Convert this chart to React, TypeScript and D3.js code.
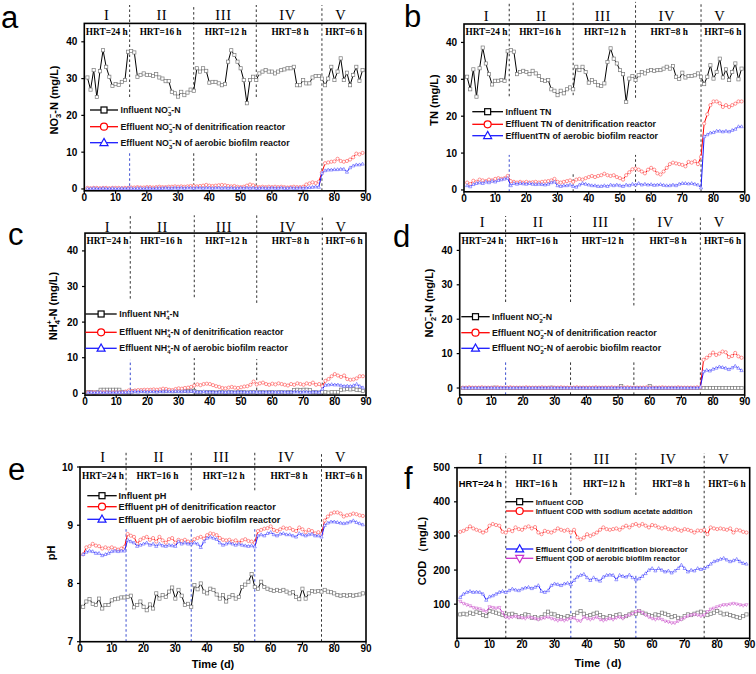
import React from 'react';
import * as d3 from 'd3';

// ---------- data ----------
const days: number[] = d3.range(1, 90);
const xTicks = [0, 10, 20, 30, 40, 50, 60, 70, 80, 90];
const nTicks = [0, 10, 20, 30, 40];
const phTicks = [7, 8, 9, 10];
const codTicks = [100, 200, 300, 400, 500];
const romanLabels = ['I', 'II', 'III', 'IV', 'V'];
const romanPos = [7.2, 24.8, 44.5, 65, 82];
const hrtLabels = ['HRT=24 h', 'HRT=16 h', 'HRT=12 h', 'HRT=8 h', 'HRT=6 h'];
const hrtPos = [7.2, 24.4, 45.2, 65.8, 83];

// a: NO3-N
const no3Inf = [30.3,27,32.3,25,32,37.7,33.2,30.5,28,28.5, 28.3,29.1,29.6,37.3,37.5,37.1,30.5,31,31.4,31, 31,30.7,31.2,30.3,30,29.3,29.3,26.4,26,25.1, 26.4,25.5,26.2,27,26.7,32.8,31.9,32.8,32.1,28.9, 29.1,29.1,28.7,28.2,28.5,34.6,37.7,36.4,34.6,32.8, 29.6,23.3,29.6,30.5,29.6,31.4,31.9,32.3,31.9,31.9, 31.4,31.9,32.3,32.5,32.8,32.8,33.2,28.2,28.2,29.6, 28.7,28.7,30.3,30.7,30.7,30,28.2,30,33.2,29.6, 31.9,35.5,29.6,31.6,28.2,31,33.2,29.4,32.3];
const no3Den = [0.3,0.2,0.3,0.3,0.2,0.3,0.3,0.2,0.3,0.3, 0.3,0.2,0.3,0.3,0.4,0.4,0.5,0.4,0.4,0.5, 0.5,0.4,0.5,0.6,0.5,0.5,0.6,0.6,0.7,0.6, 0.7,0.6,0.7,0.8,0.8,0.7,0.8,0.9,1.1,0.9, 0.8,0.9,1.0,1.1,1.0,0.8,0.7,0.8,0.6,0.5, 0.6,0.9,1.2,1.0,0.6,0.5,0.6,0.5,0.6,0.5, 0.6,0.5,0.6,0.5,0.4,0.5,0.6,0.5,0.5,0.6, 1.2,1.5,1.8,1.6,2.0,4.5,7.0,7.2,7.4,7.5, 8.2,7.6,7.4,7.6,8.0,8.6,9.6,9.4,9.8];
const no3Aer = [0.1,0.1,0.2,0.1,0.1,0.2,0.1,0.1,0.2,0.1, 0.1,0.2,0.1,0.2,0.2,0.1,0.2,0.2,0.1,0.2, 0.2,0.1,0.2,0.2,0.2,0.3,0.2,0.2,0.3,0.2, 0.3,0.2,0.3,0.3,0.2,0.3,0.3,0.2,0.3,0.3, 0.2,0.3,0.3,0.2,0.3,0.2,0.3,0.2,0.2,0.3, 0.2,0.3,0.2,0.3,0.2,0.2,0.3,0.2,0.2,0.3, 0.2,0.2,0.3,0.2,0.2,0.3,0.2,0.2,0.3,0.2, 0.3,0.4,0.5,0.6,0.5,4.3,5.0,5.2,5.2,5.3, 5.3,5.4,5.4,4.6,5.8,6.3,6.6,6.6,6.8];

// b: TN
const tnInf = [30.7,27.3,32.7,25.3,33,38.6,34.3,31.4,28.6,29.6, 29.6,29.8,29.6,37.6,37.9,37.5,31.4,32,32.3,32, 31.4,32.3,31.6,30.9,29.8,29.6,29.8,27.3,26.9,25.7, 26.9,26.2,27.3,27.8,27.3,33.4,32.5,33.4,32,29.1, 29.8,29.3,28.4,28.2,28.9,34.7,38.4,35.6,34.3,32.5, 31.4,23.9,30.2,30.9,29.8,31.1,32,31.6,32.3,32.5, 32.3,32.5,32.5,32.9,33.4,32.9,33.6,30.7,30.1,31.8, 30.5,30.9,30.9,31.1,31.6,30.7,28.7,30.7,33.8,30.2, 32,35.6,30.5,32.7,29.8,32,34.3,30,32.9];
const tnDen = [2.0,1.6,2.5,2.2,2.8,2.6,2.4,2.8,2.6,3.0, 3.2,3.0,3.2,3.8,2.4,2.2,2.0,2.2,2.0,2.2, 2.0,2.1,2.2,2.0,2.2,2.3,2.4,2.6,3.0,2.2, 2.0,2.2,2.4,2.6,2.2,2.8,3.0,2.8,3.2,3.5, 3.8,3.5,3.8,4.0,4.4,4.0,3.8,4.0,3.5,3.2, 2.8,4.0,4.8,5.6,5.8,5.5,5.0,4.5,5.5,6.0, 5.5,4.5,4.2,5.0,6.0,7.0,7.4,7.2,7.0,6.8, 6.4,7.6,7.4,7.8,7.0,9.0,18,20.5,23,24, 24,23.5,22.5,23,22.5,23,23.4,24,24];
const tnAer = [1.2,0.9,1.5,1.8,2.0,1.8,2.2,2.0,2.4,2.2, 2.6,2.8,3.0,3.2,1.2,1.8,1.6,1.8,1.7,1.6, 1.8,1.6,1.5,1.6,1.5,1.4,1.6,2.0,2.2,1.2, 1.0,1.2,1.2,1.4,1.0,0.8,1.4,1.8,1.6,1.4, 1.2,1.2,1.0,1.0,1.2,1.0,1.4,1.2,1.4,1.2, 1.0,1.4,1.2,1.6,1.4,1.8,1.4,1.6,1.4,1.5, 1.3,1.4,1.5,1.3,1.2,1.2,1.4,1.2,1.6,1.8, 1.8,1.7,1.8,1.6,1.4,0.6,14.5,15.0,15.5,15.6, 16,16,15.8,16,15.8,16.2,16.5,17.2,17.2];

// c: NH4+-N
const nh4Inf = [0.3,0.3,0.2,0.3,1.0,1.0,1.0,1.0,1.0,1.0, 1.0,0.4,0.3,0.3,0.5,0.6,0.6,0.7,0.6,0.6, 0.7,0.6,0.6,0.7,0.6,0.6,0.7,0.6,0.6,0.7, 0.6,0.7,0.6,0.7,0.6,0.3,0.3,0.2,0.3,0.3, 0.3,0.2,0.3,0.3,0.2,0.3,0.3,0.2,0.3,0.3, 0.3,0.2,0.3,0.3,0.2,0.3,0.3,0.2,0.3,0.3, 0.2,0.3,0.3,0.2,0.3,0.3,0.9,1.0,0.9,1.0, 1.0,0.9,0.3,0.3,0.2,0.3,0.3,0.2,0.3,0.3, 0.3,1.0,1.1,1.2,1.1,1.2,1.0,0.9,0.7];
const nh4Den = [0.3,0.3,0.3,0.2,0.3,0.3,0.3,0.2,0.3,0.3, 0.3,0.3,0.5,0.8,0.6,0.8,0.9,0.9,1.0,1.0, 1.0,1.1,1.0,1.1,1.3,1.2,1.0,0.9,1.2,1.4, 1.3,1.5,1.6,1.8,2.2,2.5,2.3,2.6,2.7,2.6, 2.3,2.0,1.8,1.5,1.4,1.6,1.8,1.6,1.5,1.7, 1.9,2.0,2.4,3.3,2.5,2.8,3.0,2.6,2.4,2.7, 2.5,2.8,2.6,2.4,2.2,2.6,2.4,2.8,2.6,2.4, 2.8,2.6,3.0,2.4,2.6,2.0,3.5,4.0,4.8,5.4, 5.0,4.6,5.0,4.0,3.8,3.9,4.2,4.8,4.8];
const nh4Aer = [0.2,0.3,0.2,0.3,0.3,0.2,0.3,0.3,0.2,0.3, 0.3,0.3,0.3,0.4,0.4,0.5,0.4,0.5,0.5,0.4, 0.5,0.5,0.4,0.5,0.5,0.6,0.5,0.5,0.6,0.5, 0.5,0.6,0.5,0.6,0.5,0.4,0.4,0.5,0.4,0.4, 0.4,0.3,0.4,0.4,0.3,0.4,0.4,0.3,0.4,0.4, 0.4,0.3,0.4,0.4,0.4,0.3,0.4,0.4,0.3,0.4, 0.4,0.3,0.4,0.4,0.3,0.4,0.4,0.4,0.3,0.4, 0.4,0.3,0.4,0.4,0.3,1.2,2.3,2.4,2.5,2.4, 2.4,2.2,2.0,2.1,2.0,2.2,2.6,2.0,1.6];

// d: NO2--N
const no2Inf = [0,0,0,0,0,0,0,0,0,0, 0.1,0,0,0,0,0,0,0,0,0, 0,0,0,0,0,0,0,0,0.1,0, 0,0,0,0,0,0,0,0,0,0, 0,0,0,0,0,0,0,0,0,0, 0.6,0,0,0,0,0,0,0,0,0.6, 0,0,0,0,0,0,0,0,0,0, 0,0,0,0,0,0,0,0,0,0, 0,0,0,0,0,0,0,0,0];
const no2Den = [0.1,0.1,0.2,0.1,0.1,0.1,0.2,0.1,0.1,0.1, 0.1,0.2,0.1,0.1,0.1,0.2,0.1,0.1,0.1,0.1, 0.2,0.1,0.1,0.1,0.1,0.2,0.1,0.1,0.1,0.1, 0.1,0.2,0.1,0.1,0.1,0.1,0.2,0.1,0.1,0.1, 0.1,0.1,0.2,0.1,0.1,0.1,0.1,0.2,0.1,0.1, 0.1,0.1,0.2,0.1,0.1,0.1,0.1,0.1,0.2,0.1, 0.1,0.1,0.1,0.2,0.1,0.1,0.1,0.1,0.2,0.1, 0.1,0.1,0.1,0.1,0.2,0.2,8.2,8.8,9.5,10.3, 9.6,10.0,10.6,10.4,9.0,9.3,10.2,9.2,8.8];
const no2Aer = [0.05,0.05,0.05,0.05,0.05,0.05,0.05,0.05,0.05,0.05, 0.05,0.05,0.05,0.05,0.05,0.05,0.05,0.05,0.05,0.05, 0.05,0.05,0.05,0.05,0.05,0.05,0.05,0.05,0.05,0.05, 0.05,0.05,0.05,0.05,0.05,0.05,0.05,0.05,0.05,0.05, 0.05,0.05,0.05,0.05,0.05,0.05,0.05,0.05,0.05,0.05, 0.05,0.05,0.05,0.05,0.05,0.05,0.05,0.05,0.05,0.05, 0.05,0.05,0.05,0.05,0.05,0.05,0.05,0.05,0.05,0.05, 0.05,0.05,0.05,0.05,0.05,0.3,4.8,5.2,5.0,5.5, 5.8,6.2,6.0,5.8,5.4,5.9,6.4,5.8,5.1];

// e: pH
const phInf = [7.60,7.69,7.73,7.65,7.63,7.74,7.57,7.63,7.63,7.71, 7.73,7.74,7.76,7.76,7.77,7.79,7.59,7.63,7.69,7.60, 7.54,7.64,7.57,7.83,7.74,7.80,7.77,7.86,7.93,7.74, 7.89,7.79,7.63,7.65,7.60,7.97,7.90,8.00,7.86,7.83, 7.91,7.89,7.81,7.74,7.80,7.69,7.77,7.80,7.74,7.77, 7.94,7.98,8.03,8.16,7.94,7.91,8.03,7.94,7.91,7.89, 7.87,7.89,7.87,7.89,7.86,7.83,7.85,7.77,7.73,7.91, 7.74,7.83,7.87,7.86,7.87,7.86,7.89,7.86,7.85,7.83, 7.80,7.79,7.80,7.79,7.80,7.79,7.80,7.81,7.83];
const phDen = [8.50,8.62,8.64,8.68,8.65,8.64,8.60,8.62,8.60,8.62, 8.60,8.58,8.60,8.63,8.85,8.82,8.80,8.68,8.75,8.78, 8.80,8.75,8.78,8.72,8.80,8.74,8.70,8.76,8.78,8.70, 8.75,8.73,8.75,8.72,8.70,8.76,8.78,8.80,8.77,8.83, 8.86,8.85,8.83,8.78,8.75,8.74,8.75,8.72,8.74,8.70, 8.74,8.76,8.73,8.72,8.70,8.90,8.92,8.94,8.95,8.98, 8.92,8.90,8.93,8.96,8.94,8.95,8.92,8.90,8.96,8.93, 8.88,8.92,8.90,8.86,8.88,8.85,9.08,9.15,9.20,9.22, 9.22,9.20,9.15,9.17,9.18,9.20,9.19,9.17,9.16];
const phAer = [8.50,8.54,8.56,8.55,8.52,8.52,8.48,8.50,8.52,8.55, 8.56,8.55,8.56,8.56,8.75,8.72,8.70,8.64,8.66,8.68, 8.70,8.66,8.68,8.64,8.68,8.65,8.64,8.66,8.65,8.64, 8.72,8.68,8.70,8.68,8.68,8.70,8.68,8.62,8.72,8.78, 8.80,8.78,8.76,8.70,8.66,8.68,8.70,8.68,8.66,8.68, 8.66,8.65,8.64,8.65,8.63,8.82,8.84,8.82,8.86,8.88, 8.84,8.82,8.85,8.86,8.84,8.84,8.82,8.80,8.86,8.84, 8.82,8.84,8.85,8.82,8.82,8.80,9.00,9.04,9.06,9.06, 9.05,9.04,9.03,9.04,9.06,9.08,9.05,9.03,9.01];

// f: COD
const codInf = [70,72,70,75,72,78,74,68,65,80, 78,75,72,68,65,70,72,68,62,65, 70,68,60,62,58,62,70,78,72,70, 65,62,60,65,62,68,75,80,72,65, 68,72,75,68,62,60,65,62,68,70, 62,65,70,75,72,80,75,72,68,65, 70,68,75,72,68,62,65,60,58,65, 70,68,72,75,78,75,68,72,75,80, 75,70,72,68,65,62,60,65,70];
const codAcetate = [312,315,320,328,322,318,315,310,315,330, 335,332,330,312,310,318,314,325,320,318, 325,328,322,326,310,305,315,312,310,315, 322,318,315,318,310,318,296,290,295,305, 300,305,310,318,325,320,318,320,322,318, 325,330,325,332,335,330,335,330,325,332, 330,325,322,325,320,318,322,318,315,320, 318,315,310,316,315,318,305,325,322,320, 322,320,318,322,310,318,316,312,310];
const codDen = [120,130,135,138,135,136,135,130,112,122, 125,130,135,138,135,140,145,142,140,145, 148,150,146,150,155,138,135,140,155,160, 158,155,160,162,158,170,180,185,188,178, 170,178,172,168,180,185,186,185,172,185, 182,180,186,178,172,175,182,190,200,205, 198,205,200,195,198,192,198,205,215,205, 195,200,198,205,202,205,210,218,225,228, 232,235,230,225,228,232,225,220,218];
const codAer = [108,102,98,95,90,88,86,82,78,92, 90,88,90,75,62,60,62,64,62,60, 58,62,60,58,55,58,60,62,58,55, 52,55,52,55,58,60,52,50,62,58, 55,58,62,55,52,55,58,55,60,62, 58,65,68,72,78,80,75,68,62,58, 55,58,55,50,48,45,45,50,55,60, 65,68,70,68,65,68,78,85,88,92, 95,98,98,100,102,100,98,96,98];

// ---------- styling ----------
type Seg = { t: string; s?: 'sub' | 'sup'; dx?: number };
type MarkType = 'square' | 'circle' | 'tri' | 'triDown';
const SANS = 'Liberation Sans, Arial, Helvetica, sans-serif';
const SERIF = 'Liberation Serif, Times New Roman, serif';
const COLORS: Record<string, { line: string; mark: string }> = {
  black: { line: '#000000', mark: '#7a7a7a' },
  red: { line: '#ff0000', mark: '#ff6464' },
  blue: { line: '#1a1aff', mark: '#7070ff' },
  magenta: { line: '#cc33cc', mark: '#d67ad6' },
};
const DARK = '#333333';
const BLUE_DASH = '#3a4cd0';

const ion = (pre: string, base: string, num: string, charge: string, post: string): Seg[] => [
  { t: pre + base }, { t: num, s: 'sub' }, { t: charge, s: 'sup', dx: -0.39 }, { t: post },
];

interface SeriesDef { values: number[]; color: string; marker: MarkType; label: Seg[] }
interface DividerDef { x: number; segs: [number, number, boolean][] }
interface PanelDef {
  letter: string; letterX: number; letterY: number;
  xRange: [number, number]; yDomain: [number, number]; yRange: [number, number];
  yTicks: number[]; yTitle: Seg[]; yTitleX: number; yTitleY: number;
  xTitle?: Seg[]; xTitleX?: number; xTitleY?: number;
  romanY: number; hrtY: number; hrtSansFirst?: boolean;
  dividers: DividerDef[]; series: SeriesDef[];
  legend: { x0: number; x1: number; tx: number; rows: number[]; fs: number };
}

const std = (tops: number[], bots: number[], lo: number, hi: number): DividerDef[] => [
  { x: 14.5, segs: [[tops[0], hi, false], [lo, bots[0], true]] },
  { x: 35, segs: [[tops[1], hi, false], [lo, bots[1], false]] },
  { x: 55, segs: [[tops[2], hi, false], [lo, bots[2], false]] },
  { x: 76, segs: [[lo, hi, false]] },
];

const panels: PanelDef[] = [
  {
    letter: 'a', letterX: 1, letterY: 28,
    xRange: [84.3, 365.7], yDomain: [-0.5, 45], yRange: [190.8, 23.4],
    yTicks: nTicks, yTitle: ion('', 'NO', '3', '−', '-N (mg/L)'), yTitleX: 58, yTitleY: 100,
    romanY: 20, hrtY: 35,
    dividers: std([25, 27, 25], [10, 10, 10], -0.5, 50),
    series: [
      { values: no3Inf, color: 'black', marker: 'square', label: ion('Influent ', 'NO', '3', '−', '-N') },
      { values: no3Den, color: 'red', marker: 'circle', label: ion('Effluent ', 'NO', '3', '−', '-N of denitrification reactor') },
      { values: no3Aer, color: 'blue', marker: 'tri', label: ion('Effluent ', 'NO', '3', '−', '-N of aerobic biofilm reactor') },
    ],
    legend: { x0: 90, x1: 118, tx: 120.5, rows: [110, 126.7, 142.7], fs: 8.8 },
  },
  {
    letter: 'b', letterX: 404, letterY: 27,
    xRange: [464, 744.7], yDomain: [-0.5, 45], yRange: [191.8, 24.0],
    yTicks: nTicks, yTitle: [{ t: 'TN (mg/L)' }], yTitleX: 438, yTitleY: 100,
    romanY: 21, hrtY: 35,
    dividers: std([25.4, 25.7, 25], [9.5, 4.5, 9.5], -0.5, 51),
    series: [
      { values: tnInf, color: 'black', marker: 'square', label: [{ t: 'Influent TN' }] },
      { values: tnDen, color: 'red', marker: 'circle', label: [{ t: 'Effluent TN of denitrification reactor' }] },
      { values: tnAer, color: 'blue', marker: 'tri', label: [{ t: 'EffluentTN of aerobic biofilm reactor' }] },
    ],
    legend: { x0: 472.3, x1: 503, tx: 505.5, rows: [111.7, 124.3, 135.7], fs: 8.8 },
  },
  {
    letter: 'c', letterX: 8, letterY: 245,
    xRange: [85, 366], yDomain: [-0.5, 45], yRange: [395.1, 233.1],
    yTicks: nTicks, yTitle: ion('', 'NH', '4', '+', '-N (mg/L)'), yTitleX: 57, yTitleY: 306,
    romanY: 232, hrtY: 244.3,
    dividers: std([26.6, 27, 25.4], [9.4, 9.9, 9.6], -0.5, 50),
    series: [
      { values: nh4Inf, color: 'black', marker: 'square', label: ion('Influent ', 'NH', '4', '+', '-N') },
      { values: nh4Den, color: 'red', marker: 'circle', label: ion('Effluent ', 'NH', '4', '+', '-N of denitrification reactor') },
      { values: nh4Aer, color: 'blue', marker: 'tri', label: ion('Effluent ', 'NH', '4', '+', '-N of aerobic biofilm reactor') },
    ],
    legend: { x0: 85.5, x1: 116.7, tx: 119.3, rows: [314, 332.3, 348.3], fs: 8.8 },
  },
  {
    letter: 'd', letterX: 393, letterY: 247,
    xRange: [459.7, 744.7], yDomain: [-2, 45], yRange: [394.9, 233.2],
    yTicks: nTicks, yTitle: ion('', 'NO', '2', '−', '-N (mg/L)'), yTitleX: 433, yTitleY: 303,
    romanY: 227, hrtY: 244.3,
    dividers: std([25, 25, 24], [7.6, 7.6, 7.6], -2, 50),
    series: [
      { values: no2Inf, color: 'black', marker: 'square', label: ion('Influent ', 'NO', '2', '−', '-N') },
      { values: no2Den, color: 'red', marker: 'circle', label: ion('Effluent ', 'NO', '2', '−', '-N of denitrification reactor') },
      { values: no2Aer, color: 'blue', marker: 'tri', label: ion('Effluent ', 'NO', '2', '−', '-N of aerobic biofilm reactor') },
    ],
    legend: { x0: 461.3, x1: 489.7, tx: 492, rows: [316.7, 332.7, 348.3], fs: 8.8 },
  },
  {
    letter: 'e', letterX: 8, letterY: 480,
    xRange: [80, 366], yDomain: [7, 10], yRange: [641.7, 467],
    yTicks: phTicks, yTitle: [{ t: 'pH' }], yTitleX: 55, yTitleY: 553,
    xTitle: [{ t: 'Time (d)' }], xTitleX: 213, xTitleY: 668,
    romanY: 462, hrtY: 479,
    dividers: [
      { x: 14.5, segs: [[9.6, 10.26, false], [7, 8.95, true]] },
      { x: 35, segs: [[9.6, 10.26, false], [7, 8.95, true]] },
      { x: 55, segs: [[9.6, 10.26, false], [7, 8.95, true]] },
      { x: 76, segs: [[7, 10.26, false]] },
    ],
    series: [
      { values: phInf, color: 'black', marker: 'square', label: [{ t: 'Influent pH' }] },
      { values: phDen, color: 'red', marker: 'circle', label: [{ t: 'Effluent pH of denitrification reactor' }] },
      { values: phAer, color: 'blue', marker: 'tri', label: [{ t: ' Effluent pH of aerobic biofilm reactor' }] },
    ],
    legend: { x0: 87.3, x1: 116.7, tx: 118.5, rows: [495.7, 506.7, 519.3], fs: 9.2 },
  },
  {
    letter: 'f', letterX: 404, letterY: 489,
    xRange: [457, 749.7], yDomain: [0, 500], yRange: [638.3, 467.7],
    yTicks: codTicks, yTitle: [{ t: 'COD （mg/L)' }], yTitleX: 426, yTitleY: 551,
    xTitle: [{ t: 'Time（d)' }], xTitleX: 598, xTitleY: 667,
    romanY: 463.5, hrtY: 486.5, hrtSansFirst: true,
    dividers: [
      { x: 15, segs: [[0, 543, false]] },
      { x: 35, segs: [[420, 543, false], [0, 318, true]] },
      { x: 55, segs: [[420, 543, false], [0, 190, true]] },
      { x: 76, segs: [[0, 543, false]] },
    ],
    series: [
      { values: codInf, color: 'black', marker: 'square', label: [{ t: 'Influent COD' }] },
      { values: codAcetate, color: 'red', marker: 'circle', label: [{ t: 'Influent COD with sodium acetate addition' }] },
      { values: codDen, color: 'blue', marker: 'tri', label: [{ t: 'Effluent COD of denitrification bioreactor' }] },
      { values: codAer, color: 'magenta', marker: 'triDown', label: [{ t: 'Effluent COD of aerobic biofilm reactor' }] },
    ],
    legend: { x0: 506, x1: 533.3, tx: 535.7, rows: [501.7, 511, 549, 558.3], fs: 7.8 },
  },
];

// ---------- drawing helpers ----------
function Rich({ segs, fs }: { segs: Seg[]; fs: number }) {
  let prev = 0;
  return (
    <>
      {segs.map((g, i) => {
        const shift = g.s === 'sub' ? fs * 0.3 : g.s === 'sup' ? -fs * 0.42 : 0;
        const dy = shift - prev;
        prev = shift;
        return (
          <tspan key={i} dy={dy} dx={g.dx ? g.dx * fs : undefined} fontSize={g.s ? fs * 0.68 : fs}>
            {g.t}
          </tspan>
        );
      })}
    </>
  );
}

function Mark({ type, x, y, s, stroke, sw }: { type: MarkType; x: number; y: number; s: number; stroke: string; sw: number }) {
  if (type === 'square') return <rect x={x - s / 2} y={y - s / 2} width={s} height={s} fill="#fff" stroke={stroke} strokeWidth={sw} />;
  if (type === 'circle') return <circle cx={x} cy={y} r={s / 2} fill="#fff" stroke={stroke} strokeWidth={sw} />;
  const h = s * 0.9;
  if (type === 'tri')
    return <path d={`M${x},${y - h * 0.6}L${x + s / 2},${y + h * 0.4}L${x - s / 2},${y + h * 0.4}Z`} fill="#fff" stroke={stroke} strokeWidth={sw} />;
  return <path d={`M${x},${y + h * 0.6}L${x + s / 2},${y - h * 0.4}L${x - s / 2},${y - h * 0.4}Z`} fill="#fff" stroke={stroke} strokeWidth={sw} />;
}

function Panel({ p, idx }: { p: PanelDef; idx: number }) {
  const x = d3.scaleLinear().domain([0, 90]).range(p.xRange);
  const y = d3.scaleLinear().domain(p.yDomain).range(p.yRange);
  const [left, right] = p.xRange;
  const [bottom, top] = p.yRange;
  const clipId = `clip-${idx}`;
  const line = (vals: number[]) =>
    d3.line<number>().x((_, i) => x(days[i])).y((v) => y(v))(vals) || '';
  const lg = p.legend;
  return (
    <g>
      <defs>
        <clipPath id={clipId}>
          <rect x={left} y={top} width={right - left} height={bottom - top} />
        </clipPath>
      </defs>
      {p.dividers.map((dv, i) =>
        dv.segs.map((sg, j) => (
          <line key={`${i}-${j}`} x1={x(dv.x)} x2={x(dv.x)} y1={y(sg[0])} y2={y(sg[1])}
            stroke={sg[2] ? BLUE_DASH : DARK} strokeWidth={1} strokeDasharray="2.5,2.5" />
        ))
      )}
      <g clipPath={`url(#${clipId})`}>
        {p.series.map((s, i) => (
          <g key={i}>
            <path d={line(s.values)} fill="none" stroke={COLORS[s.color].line} strokeWidth={1} />
            {s.values.map((v, k) => (
              <Mark key={k} type={s.marker} x={x(days[k])} y={y(v)} s={3.2} stroke={COLORS[s.color].mark} sw={0.7} />
            ))}
          </g>
        ))}
      </g>
      <rect x={left} y={top} width={right - left} height={bottom - top} fill="none" stroke="#000" strokeWidth={1.6} />
      {xTicks.map((t) => (
        <g key={`x${t}`}>
          <line x1={x(t)} x2={x(t)} y1={bottom} y2={bottom + 3} stroke="#000" strokeWidth={1.2} />
          <text x={x(t)} y={bottom + 10} textAnchor="middle" fontFamily={SANS} fontWeight="bold" fontSize={10}>{t}</text>
        </g>
      ))}
      {p.yTicks.map((t) => (
        <g key={`y${t}`}>
          <line x1={left - 3} x2={left} y1={y(t)} y2={y(t)} stroke="#000" strokeWidth={1.2} />
          <text x={left - 7} y={y(t) + 3.5} textAnchor="end" fontFamily={SANS} fontWeight="bold" fontSize={10}>{t}</text>
        </g>
      ))}
      {romanLabels.map((r, i) => (
        <text key={r} x={x(romanPos[i])} y={p.romanY} textAnchor="middle" fontFamily={SERIF} fontSize={14.5} letterSpacing={0.6}>{r}</text>
      ))}
      {hrtLabels.map((h, i) => (
        <text key={h} x={x(hrtPos[i])} y={p.hrtY} textAnchor="middle"
          fontFamily={p.hrtSansFirst && i === 0 ? SANS : SERIF} fontWeight="bold" fontSize={9.3}>{h}</text>
      ))}
      {p.series.map((s, i) => {
        const ry = lg.rows[i];
        const mx = (lg.x0 + lg.x1) / 2;
        const col = COLORS[s.color].line;
        return (
          <g key={`lg${i}`}>
            <line x1={lg.x0} x2={lg.x1} y1={ry} y2={ry} stroke={col} strokeWidth={1.3} />
            <Mark type={s.marker} x={mx} y={ry} s={s.marker === 'square' ? 6 : s.marker === 'circle' ? 7 : 8} stroke={col} sw={1.2} />
            <text x={lg.tx} y={ry + lg.fs * 0.36} fontFamily={SANS} fontWeight="bold" fontSize={lg.fs} fill="#111">
              <Rich segs={s.label} fs={lg.fs} />
            </text>
          </g>
        );
      })}
      <text transform={`translate(${p.yTitleX},${p.yTitleY}) rotate(-90)`} textAnchor="middle" fontFamily={SANS} fontWeight="bold" fontSize={11}>
        <Rich segs={p.yTitle} fs={11} />
      </text>
      {p.xTitle && (
        <text x={p.xTitleX} y={p.xTitleY} textAnchor="middle" fontFamily={SANS} fontWeight="bold" fontSize={11}>
          <Rich segs={p.xTitle} fs={11} />
        </text>
      )}
      <text x={p.letterX} y={p.letterY} fontFamily={SANS} fontSize={31}>{p.letter}</text>
    </g>
  );
}

export default function App() {
  return (
    <svg width={756} height={674} viewBox="0 0 756 674"
      style={{ position: 'absolute', left: 0, top: 0, background: '#fff' }}>
      <rect x={0} y={0} width={756} height={674} fill="#fff" />
      {panels.map((p, i) => (
        <Panel key={p.letter} p={p} idx={i} />
      ))}
    </svg>
  );
}
